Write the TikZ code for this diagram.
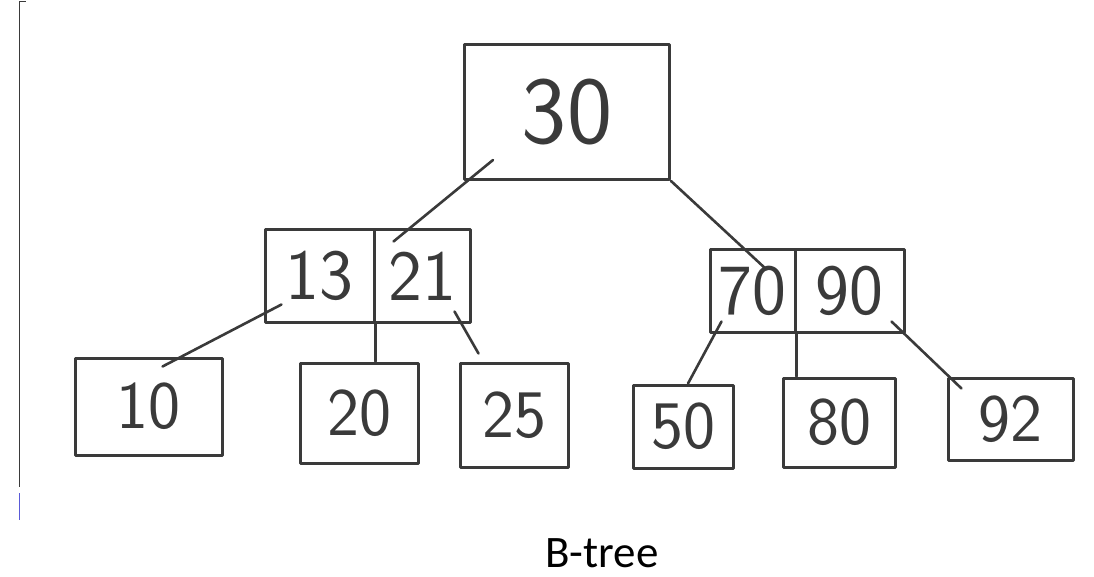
\documentclass[tikz,border=0pt]{standalone}
\usepackage{fontspec}
\newfontfamily\captionfont{Carlito}
\definecolor{ink}{HTML}{3A3A3A}
\definecolor{edgeblue}{HTML}{5A5AD8}
\tikzset{
  keybox/.style={draw=ink, line width=3pt, line join=round, inner sep=0pt,
                 text=ink, font=\sffamily\fontsize{68}{68}\selectfont},
  rootbox/.style={keybox, font=\sffamily\fontsize{96}{96}\selectfont},
  innerbox/.style={keybox, font=\sffamily\fontsize{72}{72}\selectfont},
  link/.style={draw=ink, line width=2.6pt, line cap=round},
}
\begin{document}
\begin{tikzpicture}[x=1pt, y=-1pt]
  \useasboundingbox (0,0) rectangle (1094,577);

  % thin scan border on the left
  \draw[ink, line width=1pt] (19,2) -- (19,487);
  \draw[ink, line width=1pt] (19,2) -- (26,2);
  \draw[edgeblue, line width=1pt] (19,493) -- (19,520);

  % root
  \node[rootbox, minimum width=205pt, minimum height=135pt] (root) at (567,112) {30};

  % left internal node: keys 13 | 21
  \node[innerbox, minimum width=109pt, minimum height=92pt] (n13) at (319.5,276) {13};
  \node[innerbox, minimum width=96pt,  minimum height=92pt] (n21) at (422,276) {21};

  % right internal node: keys 70 | 90
  \node[innerbox, minimum width=85pt,  minimum height=82pt] (n70) at (752.5,291) {70};
  \node[innerbox, minimum width=109pt, minimum height=82pt] (n90) at (849.5,291) {90};

  % leaves
  \node[keybox, minimum width=147pt, minimum height=97pt]  (l10) at (148.5,406.5) {10};
  \node[keybox, minimum width=118pt, minimum height=100pt] (l20) at (359,413) {20};
  \node[keybox, minimum width=108pt, minimum height=104pt] (l25) at (514,415) {25};
  \node[keybox, minimum width=100pt, minimum height=83pt]  (l50) at (683,426.5) {50};
  \node[keybox, minimum width=112pt, minimum height=89pt]  (l80) at (839,422.5) {80};
  \node[keybox, minimum width=125pt, minimum height=82pt]  (l92) at (1010.5,419) {92};

  % child pointers
  \draw[link] ([xshift=30pt, yshift=21pt]root.south west) -- ([xshift=21pt, yshift=-13pt]n21.north west);
  \draw[link] (root.south east) -- ([xshift=-30pt, yshift=-21pt]n70.north east);

  \draw[link] ([xshift=18pt, yshift=19pt]n13.south west) -- ([xshift=14pt, yshift=-10pt]l10.north);
  \draw[link] (n13.south east) -- (n13.south east |- l20.north);
  \draw[link] ([xshift=-17pt, yshift=12pt]n21.south east) -- ([xshift=20pt, yshift=8pt]l25.north west);

  \draw[link] ([xshift=13pt, yshift=12pt]n70.south west) -- ([xshift=5pt]l50.north);
  \draw[link] (n70.south east) -- (n70.south east |- l80.north);
  \draw[link] ([xshift=-14pt, yshift=12pt]n90.south east) -- ([xshift=15pt, yshift=-12pt]l92.north west);

  % caption
  \node[font=\captionfont\fontsize{45}{45}\selectfont, anchor=base, inner sep=0pt] (caption) at (602,567) {B-tree};
\end{tikzpicture}
\end{document}
